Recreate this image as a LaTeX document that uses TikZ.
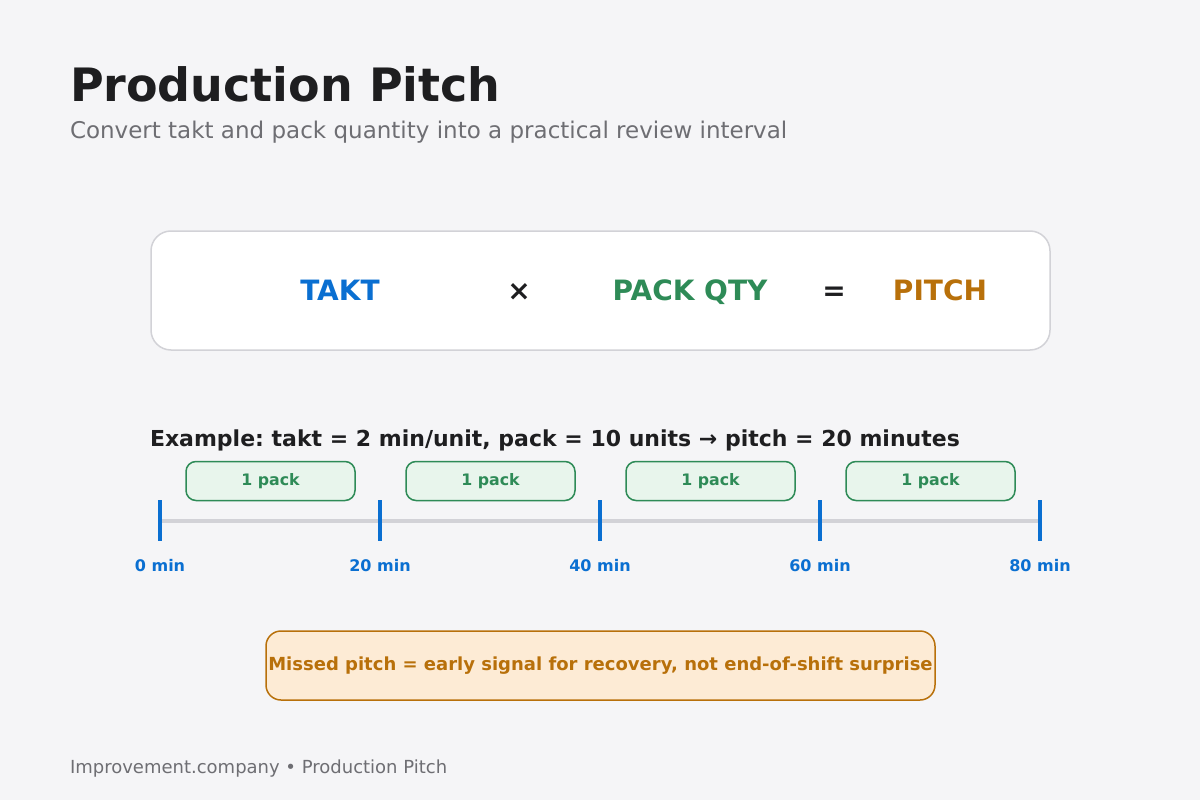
\documentclass[tikz,border=0pt]{standalone}
\usepackage{fontspec}
\setmainfont{DejaVu Sans}
\frenchspacing
\definecolor{bg}{HTML}{F5F5F7}
\definecolor{ink}{HTML}{1E1E20}
\definecolor{sub}{HTML}{6E6E73}
\definecolor{blu}{HTML}{0A6FD1}
\definecolor{grn}{HTML}{2E8B57}
\definecolor{org}{HTML}{B8700A}
\definecolor{boxline}{HTML}{D2D2D7}
\definecolor{packfill}{HTML}{E8F5EC}
\definecolor{warnfill}{HTML}{FDEBD5}
\newcommand{\fs}[1]{\fontsize{#1}{#1}\selectfont}
\begin{document}
\begin{tikzpicture}[x=1pt,y=-1pt,
  every node/.style={inner sep=0pt,outer sep=0pt},
  term/.style={font=\fs{28}\bfseries,anchor=base},
  packbox/.style={draw=grn,line width=1.5pt,fill=packfill,rounded corners=10pt,minimum width=169pt,minimum height=39pt,font=\fs{15.8}\bfseries,text=grn},
  tick/.style={draw=blu,line width=3.5pt},
  ticklab/.style={font=\fs{16}\bfseries,text=blu,anchor=base}]
\useasboundingbox (0,0) rectangle (1200,800);
\fill[bg] (0,0) rectangle (1200,800);
% title
\node[anchor=base west,font=\fs{46}\bfseries,text=ink] (title) at (70,102) {Production Pitch};
\node[anchor=base west,font=\fs{23},text=sub] (subtitle) at (70,138) {Convert takt and pack quantity into a practical review interval};
% formula box
\draw[boxline,line width=1.5pt,fill=white,rounded corners=20pt] (151,231) rectangle (1050,350);
\node[term,text=blu] (takt) at (340,300) {TAKT};
\node[term,text=ink] (times) at (519,300) {×};
\node[term,text=grn] (pack) at (690,300) {PACK QTY};
\node[term,text=ink] (eq) at (834,300) {=};
\node[term,text=org] (pitch) at (940,300) {PITCH};
% example
\node[anchor=base west,font=\fs{22}\bfseries,text=ink] (example) at (150,446) {Example: takt = 2 min/unit, pack = 10 units → pitch = 20 minutes};
% timeline
\coordinate (t0) at (160,521);
\coordinate (t4) at (1040,521);
\draw[boxline,line width=4pt] (t0) -- (t4);
\foreach \i/\x in {0/160,1/380,2/600,3/820,4/1040}{
  \coordinate (tk\i a) at (\x,500);
  \coordinate (tk\i b) at (\x,541);
  \draw[tick] (tk\i a) -- (tk\i b);
}
\node[ticklab] (l0) at (160,571) {0 min};
\node[ticklab] (l1) at (380,571) {20 min};
\node[ticklab] (l2) at (600,571) {40 min};
\node[ticklab] (l3) at (820,571) {60 min};
\node[ticklab] (l4) at (1040,571) {80 min};
\node[packbox] (p1) at (270.5,481) {1 pack};
\node[packbox] (p2) at (490.5,481) {1 pack};
\node[packbox] (p3) at (710.5,481) {1 pack};
\node[packbox] (p4) at (930.5,481) {1 pack};
% warning
\node[draw=org,line width=1.5pt,fill=warnfill,rounded corners=15pt,minimum width=669pt,minimum height=69pt,font=\fs{18}\bfseries,text=org] (warn) at (600.5,665.5) {Missed pitch = early signal for recovery, not end-of-shift surprise};
% footer
\node[anchor=base west,font=\fs{18},text=sub] (footer) at (70,773) {Improvement.company • Production Pitch};
\end{tikzpicture}
\end{document}
